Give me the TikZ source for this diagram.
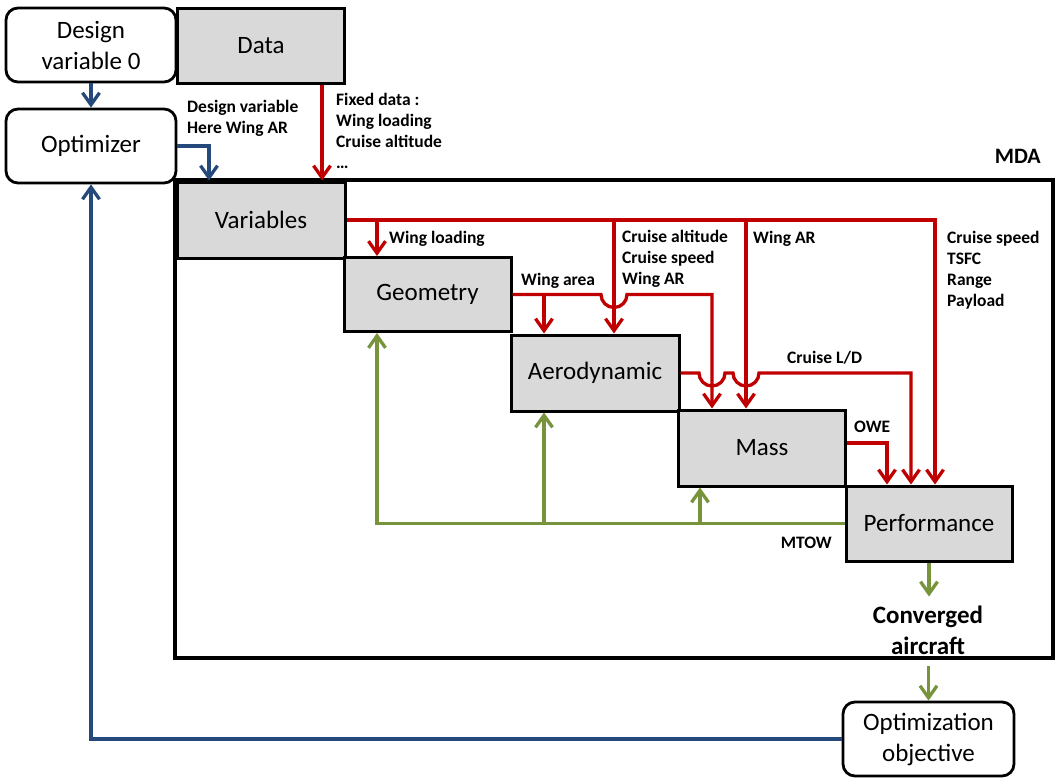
\documentclass[tikz,border=0pt]{standalone}
\usepackage{fontspec}
\setmainfont{Carlito}
\usetikzlibrary{arrows.meta,calc}
\definecolor{cred}{RGB}{192,0,0}
\definecolor{cblue}{RGB}{36,73,122}
\definecolor{cgreen}{RGB}{119,147,60}
\definecolor{cgray}{RGB}{217,217,217}
\begin{document}
\begin{tikzpicture}[x=1pt,y=-1pt,
  gbox/.style={draw, line width=3pt, fill=cgray, minimum width=167pt, minimum height=75pt, font=\fontsize{25}{31}\selectfont, inner sep=0pt},
  wbox/.style={draw, line width=2.8pt, rounded corners=12pt, fill=white, minimum width=170pt, minimum height=74pt, align=center, font=\fontsize{25}{31}\selectfont, inner sep=0pt},
  lbl/.style={font=\bfseries\fontsize{17.5}{21}\selectfont, align=left, inner sep=0pt},
  tip/.style={-{Straight Barb[length=12pt,width=17pt]}},
  rline/.style={draw=cred, line width=3.3pt, tip},
  bline/.style={draw=cblue, line width=3.3pt, tip},
  gline/.style={draw=cgreen, line width=3.3pt, tip},
]
\useasboundingbox (0,0) rectangle (1056,779);

% MDA frame
\node[draw, line width=4pt, minimum width=878pt, minimum height=478pt, inner sep=0pt] (mda) at (614,419) {};
\node[lbl, font=\bfseries\fontsize{22}{26}\selectfont, anchor=north east] (mdalbl) at (1041,149) {MDA};

% boxes
\node[wbox] (dv) at (91,45) {Design\\variable 0};
\node[gbox] (data) at (261,45.5) {Data};
\node[wbox] (opt) at (91,146) {Optimizer};
\node[gbox, minimum width=168pt, minimum height=76pt] (var) at (261,220) {Variables};
\node[gbox, minimum height=74pt] (geo) at (427.5,294.5) {Geometry};
\node[gbox, minimum width=168pt, minimum height=76pt] (aero) at (595,373) {Aerodynamic};
\node[gbox, minimum height=76pt] (mass) at (762,448) {Mass};
\node[gbox, minimum width=166pt] (perf) at (929,523.5) {Performance};
\node[wbox, minimum width=171pt] (obj) at (928.5,739) {Optimization\\objective};
\node[font=\bfseries\fontsize{25}{31}\selectfont, align=center, inner sep=0pt] (conv) at (928,630) {Converged\\aircraft};

% labels
\node[lbl, anchor=north west] (l1) at (336,93) {Fixed data :\\Wing loading\\Cruise altitude\\\dots};
\node[lbl, anchor=north west] (l2) at (187,100) {Design variable\\Here Wing AR};
\node[lbl, anchor=north west] (l3) at (389,231) {Wing loading};
\node[lbl, anchor=north west] (l4) at (622,230) {Cruise altitude\\Cruise speed\\Wing AR};
\node[lbl, anchor=north west] (l5) at (753,231) {Wing AR};
\node[lbl, anchor=north west] (l6) at (947,231) {Cruise speed\\TSFC\\Range\\Payload};
\node[lbl, anchor=north west] (l7) at (521,273) {Wing area};
\node[lbl, anchor=north west] (l8) at (787,351) {Cruise L/D};
\node[lbl, anchor=north west] (l9) at (854,421) {OWE};
\node[lbl, anchor=north east] (l10) at (832,537) {MTOW};

% blue connectors
\draw[bline] (dv.south) -- (opt.north);
\draw[bline] (opt.east) -| ([xshift=-52pt]var.north);
\draw[bline] (obj.west) -| (opt.south);

% red connectors
\draw[rline] ([xshift=61pt]data.south) -- ([xshift=61pt]var.north);
\coordinate (b1) at ([xshift=-50.5pt]geo.north |- var.east);
\coordinate (b2) at ([xshift=19pt]aero.north |- var.east);
\coordinate (b3) at ([xshift=-16pt]mass.north |- var.east);
\coordinate (gx) at ([xshift=-50pt]mass.north);
\draw[rline] (var.east) -| ([xshift=6pt]perf.north);
\draw[rline] (b1) -- ([xshift=-50.5pt]geo.north);
\draw[rline] (b2) -- ([xshift=19pt]aero.north);
\draw[rline] (b3) -- ([xshift=-16pt]mass.north);
\coordinate (h1) at (geo.east -| b2);
\draw[rline] (geo.east) -- ([xshift=-13pt]h1)
  .. controls +(0,7.2) and +(-7.2,0) .. ++(13,13)
  .. controls +(7.2,0) and +(0,7.2) .. ++(13,-13) -| (gx);
\draw[rline] ([xshift=-51pt]aero.north |- geo.east) -- ([xshift=-51pt]aero.north);
\coordinate (h2) at (aero.east -| gx);
\coordinate (h3) at (aero.east -| b3);
\draw[rline] (aero.east) -- ([xshift=-13pt]h2)
  .. controls +(0,7.2) and +(-7.2,0) .. ++(13,13)
  .. controls +(7.2,0) and +(0,7.2) .. ++(13,-13)
  -- ([xshift=-13pt]h3)
  .. controls +(0,7.2) and +(-7.2,0) .. ++(13,13)
  .. controls +(7.2,0) and +(0,7.2) .. ++(13,-13)
  -| ([xshift=-18pt]perf.north);
\draw[rline] ([yshift=5pt]mass.east) -| ([xshift=-42pt]perf.north);

% green connectors
\draw[gline] (perf.west) -| ([xshift=-50.5pt]geo.south);
\draw[gline] ([xshift=-51pt]aero.south |- perf.west) -- ([xshift=-51pt]aero.south);
\draw[gline] ([xshift=-62pt]mass.south |- perf.west) -- ([xshift=-62pt]mass.south);
\coordinate (c1) at ([yshift=-34pt]perf.south);
\coordinate (c2) at ([yshift=35pt]obj.north);
\draw[gline] (perf.south) -- (c1);
\draw[gline] (c2) -- (obj.north);
\end{tikzpicture}
\end{document}
